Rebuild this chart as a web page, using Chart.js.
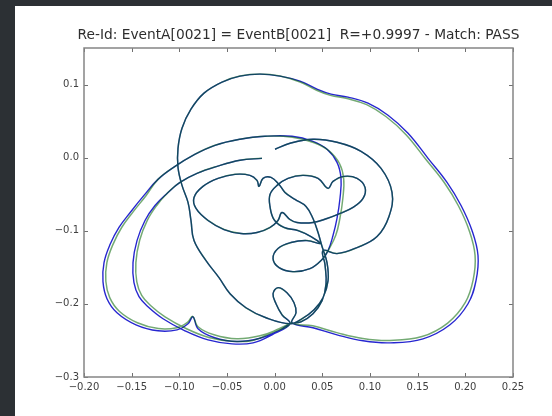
<!DOCTYPE html>
<html>
<head>
<meta charset="utf-8">
<script src="https://cdn.jsdelivr.net/npm/chart.js@4.4.1/dist/chart.umd.min.js"></script>
<style>
  html, body { margin: 0; padding: 0; background: #2c3034; width: 552px; height: 416px; overflow: hidden; }
  #wrap { position: absolute; left: 15px; top: 6px; width: 537px; height: 410px; background: #ffffff; }
  canvas { display: block; }
</style>
</head>
<body>
<div id="wrap"><canvas id="c" width="537" height="410"></canvas></div>
<script>
const titleText = "Re-Id: EventA[0021] = EventB[0021]  R=+0.9997 - Match: PASS";
const xTicks = [-0.20, -0.15, -0.10, -0.05, 0.00, 0.05, 0.10, 0.15, 0.20, 0.25];
const yTicks = [0.1, 0.0, -0.1, -0.2, -0.3];

const blueX = [
 -0.0133,-0.0364,-0.0605,-0.0815,-0.0993,-0.1129,-0.1255,-0.1360,-0.1444,-0.1486,
 -0.1476,-0.1423,-0.1329,-0.1171,-0.0941,-0.0699,-0.0447,-0.0227,-0.0028,0.0161,
 0.0077,0.0014,-0.0017,0.0035,0.0129,0.0203,0.0224,0.0182,0.0402,0.0654,
 0.0927,0.1210,0.1556,0.1839,0.2028,0.2112,0.2133,0.2070,0.1955,0.1808,
 0.1609,0.1399,0.1189,0.0979,0.0769,0.0591,0.0444,0.0266,0.0056,-0.0154,
 -0.0364,-0.0552,-0.0741,-0.0878,-0.0972,-0.1014,-0.1014,-0.0972,-0.0909,-0.0878,
 -0.0846,-0.0720,-0.0584,-0.0468,-0.0301,-0.0091,0.0161,0.0287,0.0413,0.0507,
 0.0560,0.0549,0.0497,0.0455,0.0402,0.0329,0.0213,0.0108,0.0046,-0.0038,
 -0.0122,-0.0164,-0.0185,-0.0259,-0.0416,-0.0594,-0.0752,-0.0846,-0.0825,-0.0699,
 -0.0531,-0.0353,-0.0185,-0.0049,0.0035,0.0077,0.0161,0.0234,0.0402,0.0549,
 0.0685,0.0822,0.0927,0.0948,0.0864,0.0727,0.0612,0.0560,0.0455,0.0297,
 0.0140,0.0025,-0.0049,-0.0049,-0.0007,0.0098,0.0245,0.0381,0.0476,0.0339,
 0.0171,0.0035,-0.0017,0.0046,0.0192,0.0371,0.0497,0.0560,0.0612,0.0654,
 0.0685,0.0696,0.0654,0.0549,0.0402,0.0182,-0.0101,-0.0364,-0.0626,-0.0857,
 -0.1045,-0.1224,-0.1371,-0.1507,-0.1633,-0.1727,-0.1790,-0.1801,-0.1759,-0.1654,
 -0.1455,-0.1224,-0.1024,-0.0909,-0.0857,-0.0804,-0.0636,-0.0395,-0.0154,0.0046,
 0.0161,0.0276,0.0402,0.0497,0.0539,0.0528,0.0507,0.0654,0.0864,0.1074,
 0.1199,0.1231,0.1116,0.0906,0.0654,0.0402,0.0161,0.0004
];
const blueY = [
 -0.0009,-0.0036,-0.0119,-0.0215,-0.0338,-0.0489,-0.0654,-0.0859,-0.1134,-0.1435,
 -0.1710,-0.1902,-0.2039,-0.2203,-0.2368,-0.2492,-0.2547,-0.2533,-0.2423,-0.2272,
 -0.2149,-0.1998,-0.1861,-0.1778,-0.1847,-0.1984,-0.2121,-0.2258,-0.2327,-0.2423,
 -0.2505,-0.2533,-0.2478,-0.2286,-0.1998,-0.1682,-0.1339,-0.0997,-0.0654,-0.0338,
 -0.0009,0.0334,0.0581,0.0746,0.0828,0.0869,0.0938,0.1047,0.1116,0.1143,
 0.1116,0.1034,0.0883,0.0663,0.0403,0.0128,-0.0132,-0.0379,-0.0612,-0.0859,
 -0.1134,-0.1408,-0.1641,-0.1861,-0.2053,-0.2190,-0.2272,-0.2203,-0.2080,-0.1916,
 -0.1682,-0.1435,-0.1216,-0.1024,-0.0832,-0.0667,-0.0571,-0.0475,-0.0366,-0.0270,
 -0.0283,-0.0393,-0.0311,-0.0242,-0.0228,-0.0283,-0.0393,-0.0544,-0.0695,-0.0859,
 -0.0983,-0.1038,-0.1024,-0.0955,-0.0859,-0.0750,-0.0846,-0.0887,-0.0887,-0.0832,
 -0.0763,-0.0681,-0.0558,-0.0407,-0.0283,-0.0256,-0.0324,-0.0420,-0.0283,-0.0242,
 -0.0283,-0.0379,-0.0503,-0.0667,-0.0846,-0.0955,-0.0997,-0.1079,-0.1175,-0.1134,
 -0.1161,-0.1243,-0.1381,-0.1504,-0.1559,-0.1518,-0.1394,-0.1271,-0.1065,-0.0832,
 -0.0558,-0.0283,-0.0064,0.0115,0.0224,0.0293,0.0293,0.0252,0.0169,0.0032,
 -0.0119,-0.0297,-0.0516,-0.0736,-0.0955,-0.1189,-0.1435,-0.1696,-0.1929,-0.2121,
 -0.2286,-0.2368,-0.2355,-0.2272,-0.2176,-0.2340,-0.2460,-0.2515,-0.2470,-0.2365,
 -0.2272,-0.2245,-0.2135,-0.1957,-0.1724,-0.1463,-0.1271,-0.1312,-0.1230,-0.1079,
 -0.0804,-0.0475,-0.0146,0.0087,0.0211,0.0252,0.0197,0.0115
];

const greenX = [
 -0.0133,-0.0364,-0.0605,-0.0815,-0.0993,-0.1129,-0.1235,-0.1335,-0.1416,-0.1456,
 -0.1446,-0.1395,-0.1305,-0.1150,-0.0925,-0.0690,-0.0445,-0.0230,-0.0035,0.0161,
 0.0077,0.0014,-0.0017,0.0035,0.0129,0.0203,0.0224,0.0182,0.0400,0.0652,
 0.0925,0.1208,0.1545,0.1815,0.2000,0.2082,0.2102,0.2040,0.1927,0.1782,
 0.1585,0.1378,0.1170,0.0965,0.0760,0.0585,0.0440,0.0266,0.0056,-0.0154,
 -0.0364,-0.0552,-0.0741,-0.0878,-0.0972,-0.1014,-0.1014,-0.0972,-0.0909,-0.0878,
 -0.0846,-0.0720,-0.0584,-0.0468,-0.0301,-0.0091,0.0161,0.0287,0.0413,0.0507,
 0.0560,0.0549,0.0497,0.0455,0.0402,0.0329,0.0213,0.0108,0.0046,-0.0038,
 -0.0122,-0.0164,-0.0185,-0.0259,-0.0416,-0.0594,-0.0752,-0.0846,-0.0825,-0.0699,
 -0.0531,-0.0353,-0.0185,-0.0049,0.0035,0.0077,0.0161,0.0234,0.0402,0.0549,
 0.0685,0.0822,0.0927,0.0948,0.0864,0.0727,0.0612,0.0560,0.0455,0.0297,
 0.0140,0.0025,-0.0049,-0.0049,-0.0007,0.0098,0.0245,0.0381,0.0476,0.0339,
 0.0171,0.0035,-0.0017,0.0046,0.0192,0.0371,0.0497,0.0560,0.0640,0.0684,
 0.0715,0.0724,0.0680,0.0570,0.0415,0.0185,-0.0101,-0.0364,-0.0626,-0.0857,
 -0.1045,-0.1224,-0.1350,-0.1483,-0.1605,-0.1697,-0.1760,-0.1771,-0.1730,-0.1630,
 -0.1440,-0.1220,-0.1024,-0.0912,-0.0860,-0.0804,-0.0636,-0.0395,-0.0154,0.0046,
 0.0161,0.0276,0.0402,0.0497,0.0539,0.0528,0.0507,0.0654,0.0864,0.1074,
 0.1199,0.1231,0.1116,0.0906,0.0654,0.0402,0.0161,0.0004
];
const greenY = [
 -0.0009,-0.0036,-0.0119,-0.0215,-0.0338,-0.0489,-0.0650,-0.0855,-0.1130,-0.1435,
 -0.1700,-0.1885,-0.2018,-0.2178,-0.2340,-0.2460,-0.2512,-0.2500,-0.2395,-0.2272,
 -0.2149,-0.1998,-0.1861,-0.1778,-0.1847,-0.1984,-0.2121,-0.2258,-0.2300,-0.2393,
 -0.2473,-0.2500,-0.2447,-0.2262,-0.1980,-0.1672,-0.1335,-0.0995,-0.0658,-0.0347,
 -0.0022,0.0315,0.0560,0.0725,0.0808,0.0852,0.0922,0.1035,0.1116,0.1143,
 0.1116,0.1034,0.0883,0.0663,0.0403,0.0128,-0.0132,-0.0379,-0.0612,-0.0859,
 -0.1134,-0.1408,-0.1641,-0.1861,-0.2053,-0.2190,-0.2272,-0.2203,-0.2080,-0.1916,
 -0.1682,-0.1435,-0.1216,-0.1024,-0.0832,-0.0667,-0.0571,-0.0475,-0.0366,-0.0270,
 -0.0283,-0.0393,-0.0311,-0.0242,-0.0228,-0.0283,-0.0393,-0.0544,-0.0695,-0.0859,
 -0.0983,-0.1038,-0.1024,-0.0955,-0.0859,-0.0750,-0.0846,-0.0887,-0.0887,-0.0832,
 -0.0763,-0.0681,-0.0558,-0.0407,-0.0283,-0.0256,-0.0324,-0.0420,-0.0283,-0.0242,
 -0.0283,-0.0379,-0.0503,-0.0667,-0.0846,-0.0955,-0.0997,-0.1079,-0.1175,-0.1134,
 -0.1161,-0.1243,-0.1381,-0.1504,-0.1559,-0.1518,-0.1394,-0.1271,-0.1065,-0.0832,
 -0.0558,-0.0290,-0.0080,0.0095,0.0205,0.0280,0.0293,0.0252,0.0169,0.0032,
 -0.0119,-0.0297,-0.0520,-0.0738,-0.0955,-0.1189,-0.1435,-0.1690,-0.1915,-0.2100,
 -0.2258,-0.2338,-0.2325,-0.2250,-0.2170,-0.2313,-0.2423,-0.2478,-0.2437,-0.2341,
 -0.2272,-0.2245,-0.2135,-0.1957,-0.1724,-0.1463,-0.1271,-0.1312,-0.1230,-0.1079,
 -0.0804,-0.0475,-0.0146,0.0087,0.0211,0.0252,0.0197,0.0115
];

const toPts = (xs, ys) => xs.map((x, i) => ({ x: x, y: ys[i] }));
const minus = s => s.replace('-', '\u2212');
const fmtX = v => minus((Math.abs(v) < 1e-9 ? 0 : v).toFixed(2));
const fmtY = v => minus((Math.abs(v) < 1e-9 ? 0 : v).toFixed(1));

const framePlugin = {
  id: 'frame',
  afterDatasetsDraw(chart) {
    const { ctx, chartArea: a, scales } = chart;
    const sx = scales.x, sy = scales.y;
    ctx.save();
    ctx.strokeStyle = '#707070';
    ctx.lineWidth = 1;
    ctx.beginPath();
    xTicks.forEach(v => {
      const p = Math.round(sx.getPixelForValue(v)) + 0.5;
      ctx.moveTo(p, a.bottom); ctx.lineTo(p, a.bottom - 4);
      ctx.moveTo(p, a.top); ctx.lineTo(p, a.top + 4);
    });
    yTicks.forEach(v => {
      const p = Math.round(sy.getPixelForValue(v)) + 0.5;
      ctx.moveTo(a.left, p); ctx.lineTo(a.left + 4, p);
      ctx.moveTo(a.right, p); ctx.lineTo(a.right - 4, p);
    });
    ctx.stroke();
    ctx.strokeStyle = '#858585';
    ctx.lineWidth = 1.5;
    ctx.strokeRect(a.left, a.top, a.right - a.left, a.bottom - a.top);
    ctx.restore();
  }
};

new Chart(document.getElementById('c'), {
  type: 'scatter',
  data: {
    datasets: [
      { label: 'EventB', data: toPts(greenX, greenY), showLine: true, borderColor: 'rgba(0,100,0,0.55)',
        borderWidth: 1.5, pointRadius: 0, tension: 0.4, fill: false, order: 0 },
      { label: 'EventA', data: toPts(blueX, blueY), showLine: true, borderColor: 'rgba(0,0,200,0.85)',
        borderWidth: 1.4, pointRadius: 0, tension: 0.4, fill: false, order: 1 }
    ]
  },
  options: {
    responsive: false,
    animation: false,
    devicePixelRatio: 1,
    layout: { padding: { left: 30, right: 0, top: 0, bottom: 0 } },
    plugins: {
      legend: { display: false },
      tooltip: { enabled: false },
      title: {
        display: true, fullSize: true, text: titleText, color: '#2e2e2e',
        font: { family: 'DejaVu Sans', size: 13.75, weight: 'normal', lineHeight: 1.2 },
        padding: { top: 21.6, bottom: 3.9 }
      }
    },
    scales: {
      x: {
        type: 'linear', min: -0.2, max: 0.25,
        afterBuildTicks: s => { s.ticks = xTicks.map(v => ({ value: v })); },
        afterFit: s => { s.height = 39; },
        grid: { display: false, drawTicks: false, tickLength: 0 }, border: { display: false },
        ticks: { callback: v => fmtX(v), color: '#404040', font: { family: 'DejaVu Sans', size: 10 },
                 padding: 4, maxRotation: 0, autoSkip: false }
      },
      y: {
        type: 'linear', position: 'left', min: -0.3, max: 0.15,
        afterBuildTicks: s => { s.ticks = yTicks.map(v => ({ value: v })); },
        afterFit: s => { s.width = 39; },
        grid: { display: false, drawTicks: false, tickLength: 0 }, border: { display: false },
        ticks: { callback: v => fmtY(v), color: '#404040', font: { family: 'DejaVu Sans', size: 10 },
                 padding: 5, autoSkip: false }
      },
      yRight: {
        type: 'linear', position: 'right', display: true, min: -0.3, max: 0.15,
        afterFit: s => { s.width = 39; },
        grid: { display: false, drawTicks: false, tickLength: 0 }, border: { display: false },
        ticks: { display: false }
      }
    }
  },
  plugins: [framePlugin]
});
</script>
</body>
</html>
